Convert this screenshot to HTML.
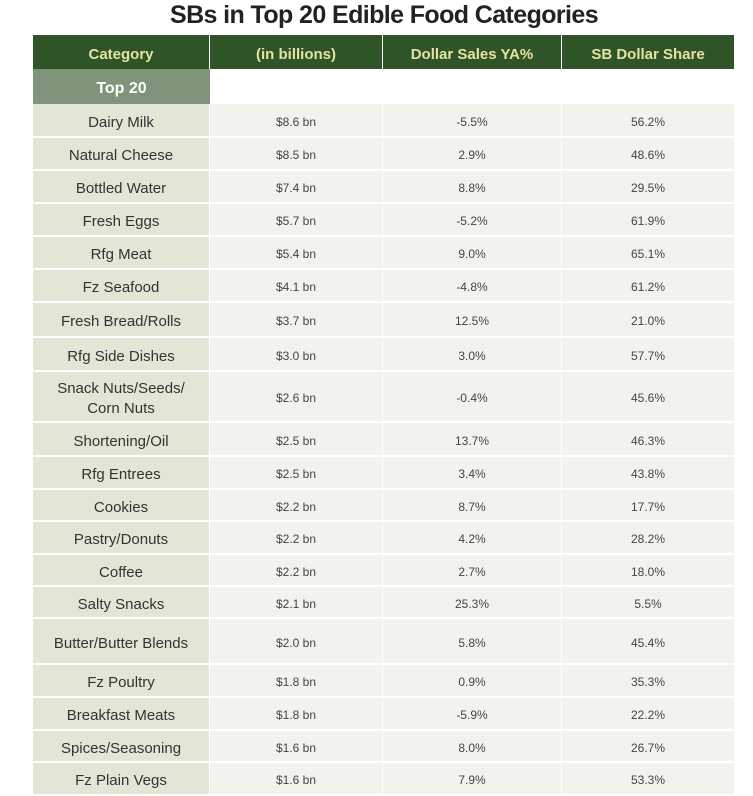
<!DOCTYPE html>
<html><head><meta charset="utf-8"><style>
body{margin:0;width:753px;height:787px;background:#fff;overflow:hidden;font-family:"Liberation Sans",sans-serif;position:relative}
#title{position:absolute;left:0;width:768px;top:0;text-align:center;font-size:25px;font-weight:bold;color:#222;line-height:30px;letter-spacing:-0.6px}
.c{position:absolute;box-sizing:border-box;display:flex;align-items:center;justify-content:center;text-align:center;line-height:20px}
.h{background:#2e5427;color:#e6e2a4;font-weight:bold;font-size:15px;border-right:1px solid #fff;padding-top:5px}
.cat{background:#e2e6d5;color:#333;font-size:15px;border-bottom:2px solid #fff;border-right:1px solid #fff;padding-top:5px}
.d{background:#f3f3ee;color:#444;font-size:12px;border-bottom:2px solid #fff;border-right:1px solid #fff;padding-top:3px}
</style></head><body>
<div id="title">SBs in Top 20 Edible Food Categories</div>
<div id="t"></div>
<script>
const categories=["Dairy Milk","Natural Cheese","Bottled Water","Fresh Eggs","Rfg Meat","Fz Seafood","Fresh Bread/Rolls","Rfg Side Dishes","Snack Nuts/Seeds/<br>Corn Nuts","Shortening/Oil","Rfg Entrees","Cookies","Pastry/Donuts","Coffee","Salty Snacks","Butter/Butter Blends","Fz Poultry","Breakfast Meats","Spices/Seasoning","Fz Plain Vegs"];
const sales=["$8.6 bn","$8.5 bn","$7.4 bn","$5.7 bn","$5.4 bn","$4.1 bn","$3.7 bn","$3.0 bn","$2.6 bn","$2.5 bn","$2.5 bn","$2.2 bn","$2.2 bn","$2.2 bn","$2.1 bn","$2.0 bn","$1.8 bn","$1.8 bn","$1.6 bn","$1.6 bn"];
const ya=["-5.5%","2.9%","8.8%","-5.2%","9.0%","-4.8%","12.5%","3.0%","-0.4%","13.7%","3.4%","8.7%","4.2%","2.7%","25.3%","5.8%","0.9%","-5.9%","8.0%","7.9%"];
const share=["56.2%","48.6%","29.5%","61.9%","65.1%","61.2%","21.0%","57.7%","45.6%","46.3%","43.8%","17.7%","28.2%","18.0%","5.5%","45.4%","35.3%","22.2%","26.7%","53.3%"];
const headers=["Category","(in billions)","Dollar Sales YA%","SB Dollar Share"];
const cols=[33,210,383,562,735];
const rowTops=[104,138,171,204,237,270,303,338,372,423,457,490,522,555,587,619,665,698,731,763,796];
const t=document.getElementById('t');
function cell(cls,x,y,w,h,html,name){const e=document.createElement('div');e.className='c '+cls;e.style.left=x+'px';e.style.top=y+'px';e.style.width=w+'px';e.style.height=h+'px';e.innerHTML=html;


t.appendChild(e);return e;}
headers.forEach((h,i)=>cell('h',cols[i],35,cols[i+1]-cols[i],34,h,'header-'+i));
const tp=cell('',33,69,177,35,'Top 20','top20-label');tp.style.background='#7f9479';tp.style.color='#fff';tp.style.fontWeight='bold';tp.style.fontSize='16px';tp.style.paddingTop='5px';
categories.forEach((c,r)=>{const y=rowTops[r],h=rowTops[r+1]-y;
cell('cat',cols[0],y,cols[1]-cols[0],h,c,'category-cell');
cell('d',cols[1],y,cols[2]-cols[1],h,sales[r],'sales-cell');
cell('d',cols[2],y,cols[3]-cols[2],h,ya[r],'ya-cell');
cell('d',cols[3],y,cols[4]-cols[3],h,share[r],'share-cell');});
</script>
</body></html>
